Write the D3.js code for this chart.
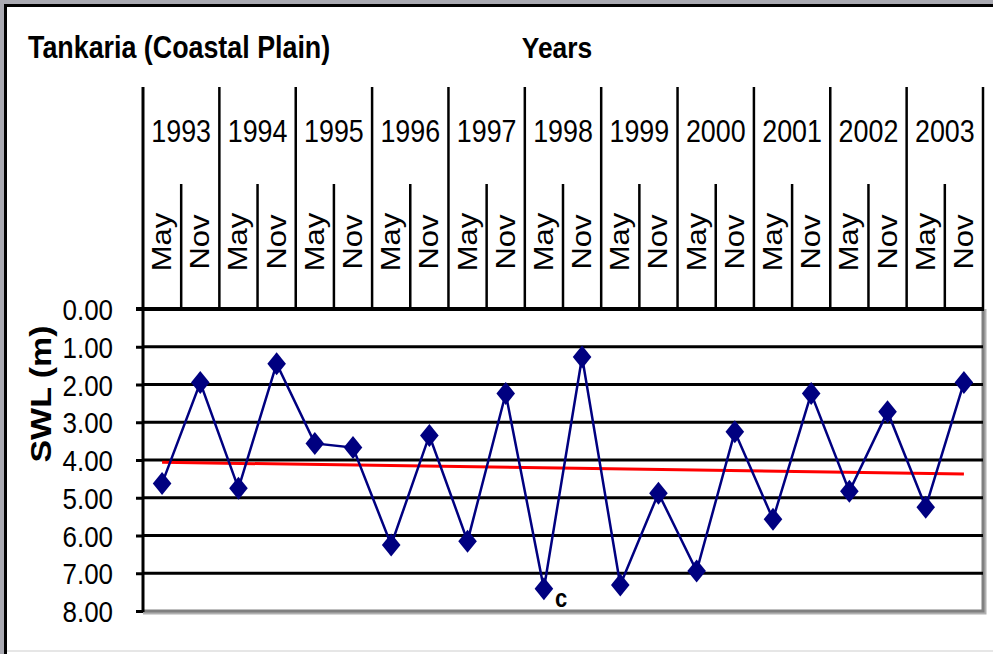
<!DOCTYPE html>
<html>
<head>
<meta charset="utf-8">
<script src="https://cdn.jsdelivr.net/npm/d3@7"></script>
<style>
  body { margin: 0; background: #fff; }
  svg { display: block; font-family: "Liberation Sans", Arial, sans-serif; }
</style>
</head>
<body>
<svg width="993" height="654"></svg>
<script>
// данные графика
const years = ["1993", "1994", "1995", "1996", "1997", "1998", "1999", "2000", "2001", "2002", "2003"];
const months = ["May", "Nov"];
const swl = [4.62, 1.95, 4.75, 1.45, 3.56, 3.67, 6.25, 3.35, 6.15, 2.24, 7.41,
             1.27, 7.31, 4.88, 6.94, 3.25, 5.57, 2.24, 4.83, 2.72, 5.25, 1.95];
const trend = [4.06, 4.37];          // линия тренда: значение в первой и последней точке
const yTicks = [0, 1, 2, 3, 4, 5, 6, 7, 8];
const note = { index: 10, text: "c" };

const periods = [];
years.forEach(y => months.forEach(m => periods.push(y + " " + m)));

const svg = d3.select("svg");
const area = { left: 143, right: 983, top: 309, bottom: 611, headTop: 87, monthTop: 184 };
const sx = 0.88; // текст в картинке слегка сжат по горизонтали

// рамка
svg.append("rect").attr("x", 0).attr("y", 0).attr("width", 993).attr("height", 4).attr("fill", "#a9a9b1");
svg.append("rect").attr("x", 0).attr("y", 0).attr("width", 4).attr("height", 654).attr("fill", "#a9a9b1");
svg.append("rect").attr("x", 4).attr("y", 4).attr("width", 989).attr("height", 3).attr("fill", "#000");
svg.append("rect").attr("x", 4).attr("y", 4).attr("width", 3).attr("height", 650).attr("fill", "#000");
svg.append("rect").attr("x", 7).attr("y", 650).attr("width", 986).attr("height", 2).attr("fill", "#e6e6e6");

const scX = d3.scaleBand().domain(periods).range([area.left, area.right]);
const scY = d3.scaleLinear().domain([0, 8]).range([area.top, area.bottom]);
const scYear = d3.scaleBand().domain(years).range([area.left, area.right]);

function label(x, y, txt, opts) {
    opts = opts || {};
    return svg.append("text")
        .attr("transform", `translate(${x},${y}) ${opts.rotate ? "rotate(-90) scale(1," + sx + ")" : "scale(" + sx + ",1)"}`)
        .attr("text-anchor", opts.anchor || "start")
        .attr("font-size", opts.size || 30)
        .attr("font-weight", opts.bold ? "bold" : "normal")
        .attr("fill", "#000")
        .text(txt);
}

// заголовки
label(28, 58, "Tankaria (Coastal Plain)", { bold: true, size: 30.5 });
label(557, 58, "Years", { bold: true, anchor: "middle" });

// тень и граница области графика
svg.append("path")
    .attr("d", `M${area.right + 2},${area.top} V${area.bottom + 2} H${area.left}`)
    .attr("fill", "none").attr("stroke", "#b0b0b0").attr("stroke-width", 3);
svg.append("path")
    .attr("d", `M${area.right},${area.top} V${area.bottom} H${area.left}`)
    .attr("fill", "none").attr("stroke", "#808080").attr("stroke-width", 3);

// сетка
svg.append("g")
    .selectAll("line")
    .data(yTicks.filter(d => d > 0 && d < 8))
    .join("line")
    .attr("x1", area.left).attr("x2", area.right)
    .attr("y1", d => scY(d)).attr("y2", d => scY(d))
    .attr("stroke", "#000").attr("stroke-width", 3);

// ось Y
const axisY = d3.axisLeft(scY).tickValues(yTicks).tickFormat(d3.format(".2f")).tickSize(7).tickPadding(24);
const gY = svg.append("g").attr("transform", `translate(${area.left},0)`).call(axisY);
gY.select(".domain").remove();
gY.selectAll(".tick line").attr("stroke", "#000").attr("stroke-width", 3);
gY.selectAll(".tick text").remove();
yTicks.forEach(v => label(113, scY(v) + 11, d3.format(".2f")(v), { anchor: "end", size: 29.5 }));

svg.append("line")
    .attr("x1", area.left).attr("x2", area.left)
    .attr("y1", area.headTop).attr("y2", area.bottom + 1)
    .attr("stroke", "#000").attr("stroke-width", 3);
svg.append("line")
    .attr("x1", area.left - 7).attr("x2", area.right + 1)
    .attr("y1", area.top).attr("y2", area.top)
    .attr("stroke", "#000").attr("stroke-width", 4);

// шапка: годы и месяцы
svg.append("g").selectAll("line")
    .data(years.slice(1).concat(["end"]))
    .join("line")
    .attr("x1", d => d === "end" ? area.right : scYear(d))
    .attr("x2", d => d === "end" ? area.right : scYear(d))
    .attr("y1", area.headTop).attr("y2", area.top)
    .attr("stroke", "#000").attr("stroke-width", 2.5);
svg.append("g").selectAll("line")
    .data(years)
    .join("line")
    .attr("x1", d => scX(d + " Nov")).attr("x2", d => scX(d + " Nov"))
    .attr("y1", area.monthTop).attr("y2", area.top)
    .attr("stroke", "#000").attr("stroke-width", 2.5);

years.forEach(y => label(scYear(y) + scYear.bandwidth() / 2, 142, y, { anchor: "middle", size: 30.5 }));
periods.forEach(p => {
    const m = p.split(" ")[1];
    label(scX(p) + scX.bandwidth() / 2 + 9, 242, m, { anchor: "middle", size: 31, rotate: true });
});

// подпись оси Y
label(51, 394, "SWL (m)", { anchor: "middle", size: 34, bold: true, rotate: true });

// линия тренда
const cx = d => scX(d) + scX.bandwidth() / 2;
svg.append("line")
    .attr("x1", cx(periods[0])).attr("x2", cx(periods[periods.length - 1]))
    .attr("y1", scY(trend[0])).attr("y2", scY(trend[1]))
    .attr("stroke", "#ff0000").attr("stroke-width", 3);

// ряд данных
const line = d3.line().x((d, i) => cx(periods[i])).y(d => scY(d));
svg.append("path")
    .datum(swl)
    .attr("d", line)
    .attr("fill", "none")
    .attr("stroke", "#000080")
    .attr("stroke-width", 2.5);

const hw = 9.3, hh = 11.5;
svg.append("g").selectAll("path")
    .data(swl)
    .join("path")
    .attr("d", (d, i) => {
        const x = cx(periods[i]), y = scY(d);
        return `M${x},${y - hh} L${x + hw},${y} L${x},${y + hh} L${x - hw},${y} Z`;
    })
    .attr("fill", "#000080");

// метка "c"
label(cx(periods[note.index]) + 11, scY(swl[note.index]) + 18, note.text, { bold: true, size: 25 });
</script>
</body>
</html>
